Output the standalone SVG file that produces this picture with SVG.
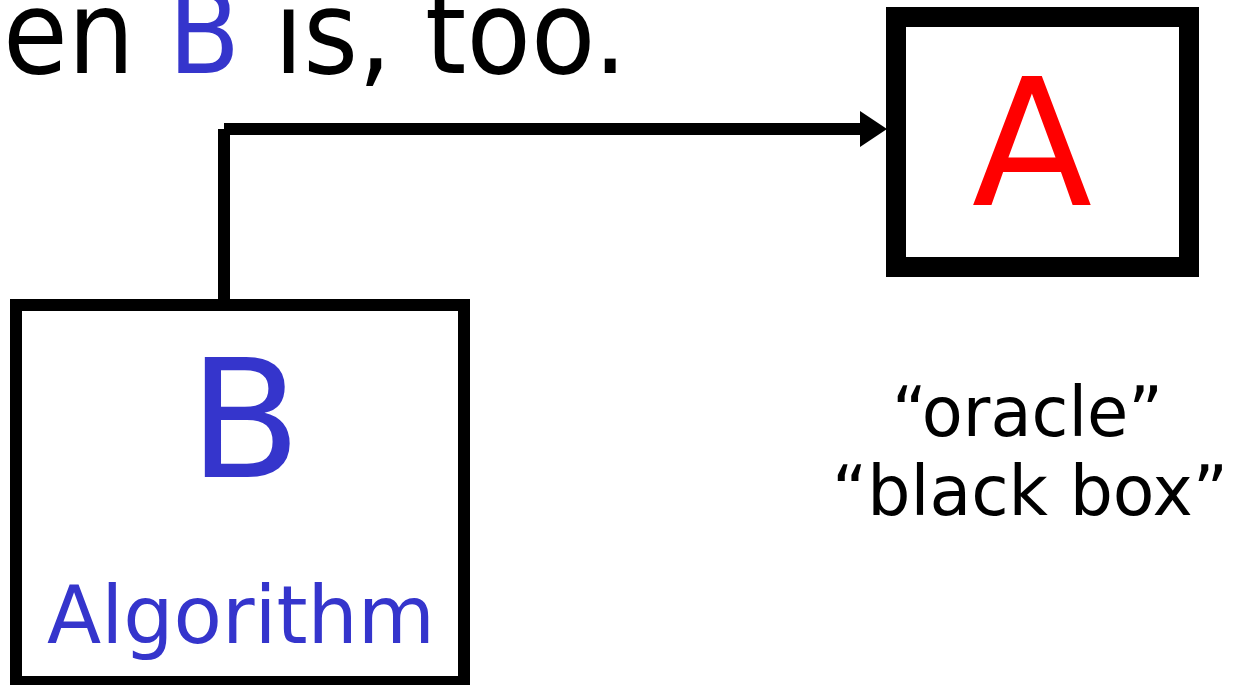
<svg xmlns="http://www.w3.org/2000/svg" width="1237" height="685" viewBox="0 0 1237 685">
<style>
.t{font-family:"DejaVu Sans","Liberation Sans",sans-serif;}
.blk{fill:#000;}
.blue{fill:#3535CC;}
.red{fill:#FF0000;}
.box{fill:#fff;stroke:#000;}
.conn{stroke:#000;stroke-width:12;fill:none;stroke-linecap:butt;}
</style>
<rect width="1237" height="685" fill="#fff"/>
<text class="t blk" x="3" y="73" font-size="115" textLength="624" lengthAdjust="spacingAndGlyphs">en <tspan class="blue">B</tspan> is, too.</text>
<g id="connectors">
<line class="conn" x1="224" y1="300" x2="224" y2="129"/>
<line class="conn" x1="224" y1="129" x2="862" y2="129"/>
<polygon points="860,111 887,129 860,147" fill="#000"/>
</g>
<g id="nodeA">
<rect class="box" x="896" y="17" width="293" height="250" stroke-width="20"/>
<text class="t red" x="1032" y="205" font-size="176" text-anchor="middle">A</text>
</g>
<g id="nodeB">
<rect class="box" x="16" y="305" width="448" height="377" stroke-width="12"/>
<text class="t blue" x="245" y="477" font-size="164" text-anchor="middle">B</text>
<text class="t blue" x="47" y="643" font-size="80" textLength="388" lengthAdjust="spacingAndGlyphs">Algorithm</text>
</g>
<g id="label">
<text class="t blk" x="892" y="436" font-size="70" textLength="271" lengthAdjust="spacingAndGlyphs">“oracle”</text>
<text class="t blk" x="832" y="515" font-size="70" textLength="396" lengthAdjust="spacingAndGlyphs">“black box”</text>
</g>
</svg>
